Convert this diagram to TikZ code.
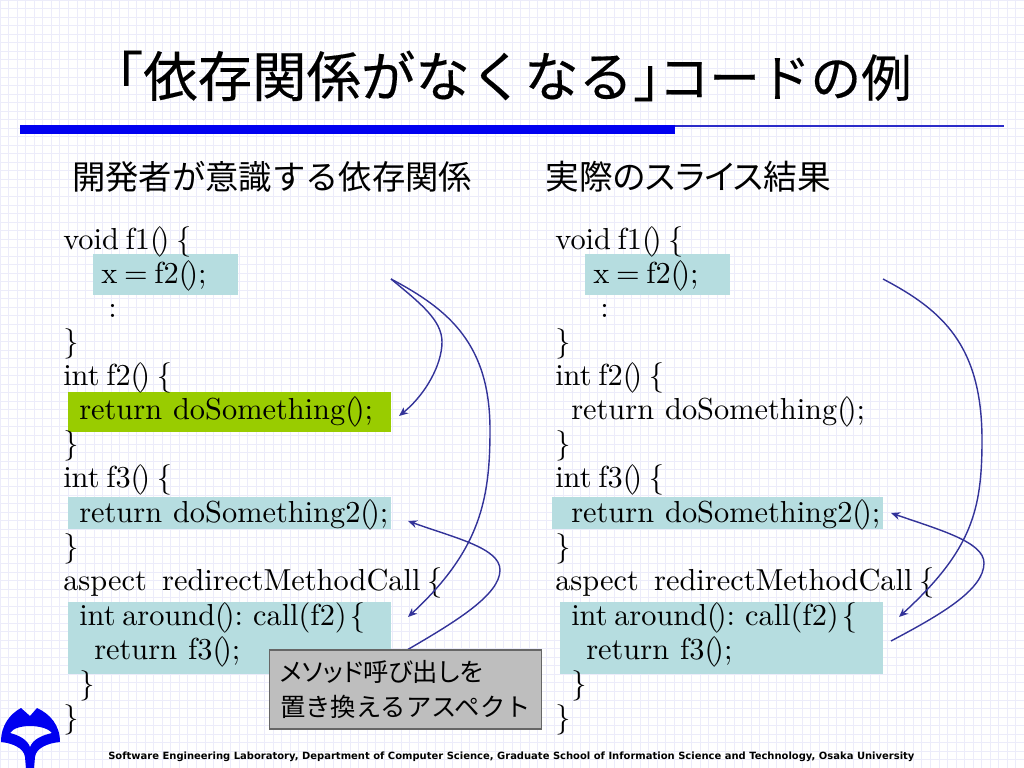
\documentclass[tikz,border=0pt]{standalone}
\usepackage{fontspec}
\usetikzlibrary{arrows.meta}
\newfontfamily\jpfont{Noto Sans CJK JP}
\newfontfamily\jptitle[FakeBold=0.3]{Noto Sans CJK JP}
\newfontfamily\jpnarrow[RawFeature=+palt]{Noto Sans CJK JP}
\newfontfamily\footfont{DejaVu Sans}
\newfontfamily\codefont{lmroman10-regular.otf}
\definecolor{gridblue}{HTML}{ECECFA}
\definecolor{slideblue}{HTML}{0000F0}
\definecolor{arrowblue}{HTML}{333399}
\definecolor{hiteal}{HTML}{B6DDE0}
\definecolor{higreen}{HTML}{99CC00}
\definecolor{notegray}{HTML}{BEBEBE}
\newcommand{\pr}{(\kern-0.14em)}
\newcommand{\ret}{return\hspace{0.36em}}
\newcommand{\codesize}{\codefont\fontsize{21.6}{26}\selectfont\spaceskip=0.22em\relax}
\tikzset{
  code/.style={anchor=base west,inner sep=0pt,yshift=-1.4pt,font=\codesize},
  hibox/.style={fill=hiteal},
  okbox/.style={fill=higreen},
  heading/.style={anchor=west,inner sep=0pt,font=\jpfont\fontsize{23.7}{28}\selectfont},
  depline/.style={arrowblue,line width=1pt},
  deparrow/.style={depline,-{Stealth[length=6.5pt,width=5.5pt]}},
}
\begin{document}
\begin{tikzpicture}[x=0.025cm,y=-0.025cm]
\useasboundingbox (0,0) rectangle (1024,768);
\draw[step=0.2133cm,gridblue,line width=0.4pt] (0,0) grid (1024,768);

%title and rule
\node[anchor=west,inner sep=0pt,font=\jptitle\fontsize{38.7}{44}\selectfont] (title) at (88.6,76) {「依存関係がなくなる」\hspace{-0.53em}{\fontsize{36}{44}\selectfont コードの例}};
\fill[slideblue] (20,125) rectangle (675,134);
\draw[slideblue!65!gray,line width=0.9pt] (675,126) -- (1004,126);

\node[heading] (headleft) at (72,177) {開発者が意識する依存関係};
\node[heading,font=\jpnarrow\fontsize{24}{28}\selectfont] (headright) at (545,177) {実際のスライス結果};

%highlights
\fill[hibox] (93,254) rectangle (238,295);
\fill[okbox] (68,392) rectangle (391,432);
\fill[hibox] (68,497) rectangle (391,529);
\fill[hibox] (68,602) rectangle (391,674);
\fill[hibox] (585,254) rectangle (730,295);
\fill[hibox] (552,497) rectangle (883,529);
\fill[hibox] (560,602) rectangle (883,674);

%left code
\node[code] (l1) at (63,248) {void f1\pr{} \{};
\node[code] (l2) at (101,282) {x = f2\pr;};
\node[code] (l3) at (108,316) {:};
\node[code] (l4) at (63,350) {\}};
\node[code] (l5) at (63,384) {int f2\pr{} \{};
\node[code] (l6) at (79,418) {\ret doSomething\pr;};
\node[code] (l7) at (63,452) {\}};
\node[code] (l8) at (63,486) {int f3\pr{} \{};
\node[code] (l9) at (79,521) {\ret doSomething2\pr;};
\node[code] (l10) at (63,555) {\}};
\node[code] (l11) at (63,589) {aspect\hspace{0.5em}redirectMethodCall \{};
\node[code] (l12) at (79,624) {int around\pr: call(f2)\hspace{0.1em}\{};
\node[code] (l13) at (94,658) {\ret f3\pr;};
\node[code] (l14) at (79,692) {\}};
\node[code] (l15) at (63,726) {\}};

%right code
\node[code] (r1) at (555,248) {void f1\pr{} \{};
\node[code] (r2) at (593,282) {x = f2\pr;};
\node[code] (r3) at (600,316) {:};
\node[code] (r4) at (555,350) {\}};
\node[code] (r5) at (555,384) {int f2\pr{} \{};
\node[code] (r6) at (571,418) {\ret doSomething\pr;};
\node[code] (r7) at (555,452) {\}};
\node[code] (r8) at (555,486) {int f3\pr{} \{};
\node[code] (r9) at (571,521) {\ret doSomething2\pr;};
\node[code] (r10) at (555,555) {\}};
\node[code] (r11) at (555,589) {aspect\hspace{0.5em}redirectMethodCall \{};
\node[code] (r12) at (571,624) {int around\pr: call(f2)\hspace{0.1em}\{};
\node[code] (r13) at (586,658) {\ret f3\pr;};
\node[code] (r14) at (571,692) {\}};
\node[code] (r15) at (555,726) {\}};

%dependency curves
\coordinate (lstart) at (391,279);
\coordinate (lsome) at (399,416);
\coordinate (laround) at (408,617);
\coordinate (lfrom) at (407,650);
\coordinate (lsome2) at (408,521);
\draw[deparrow] (lstart) .. controls (420,303) and (442,320) .. (442,342) .. controls (442,365) and (425,395) .. (lsome);
\draw[deparrow] (lstart) .. controls (450,310) and (490,345) .. (490,430) .. controls (490,500) and (480,550) .. (laround);
\draw[deparrow] (lfrom) .. controls (455,622) and (500,595) .. (500,570) .. controls (500,548) and (455,538) .. (lsome2);

\coordinate (rstart) at (883,279);
\coordinate (raround) at (899,617);
\coordinate (rfrom) at (891,641);
\coordinate (rsome2) at (891,513);
\draw[deparrow] (rstart) .. controls (942,310) and (982,345) .. (982,440) .. controls (982,510) and (972,550) .. (raround);
\draw[deparrow] (rfrom) .. controls (940,615) and (984,590) .. (984,563) .. controls (984,542) and (940,530) .. (rsome2);

%note box
\node[draw=black!60,fill=notegray,line width=0.8pt,minimum width=193.5pt,minimum height=56.2pt,inner sep=0pt,font=\jpfont\fontsize{18}{24.5}\selectfont,align=left] (note) at (405.5,689.5) {{\jpnarrow メソッド呼び出しを}\\置き換えるアスペクト};

%logo
\fill[slideblue,even odd rule] (1,742) .. controls (1,725) and (10,714) .. (21,708) -- (30,716) -- (37,708) .. controls (50,714) and (60,725) .. (60,742)
  .. controls (48,743) and (36,748) .. (35,757) -- (34,768) -- (26,768) -- (25,757) .. controls (24,748) and (12,743) .. (1,742) -- cycle
  (30,726) .. controls (22,726) and (13,728) .. (10,733) .. controls (18,735) and (27,739) .. (30,747) .. controls (33,739) and (43,735) .. (52,733) .. controls (48,728) and (38,726) .. (30,726) -- cycle;

\node[anchor=west,inner sep=0pt,font=\footfont\bfseries\fontsize{7.1}{9}\selectfont] (footer) at (108,757) {Software Engineering Laboratory, Department of Computer Science, Graduate School of Information Science and Technology, Osaka University};
\end{tikzpicture}
\end{document}
